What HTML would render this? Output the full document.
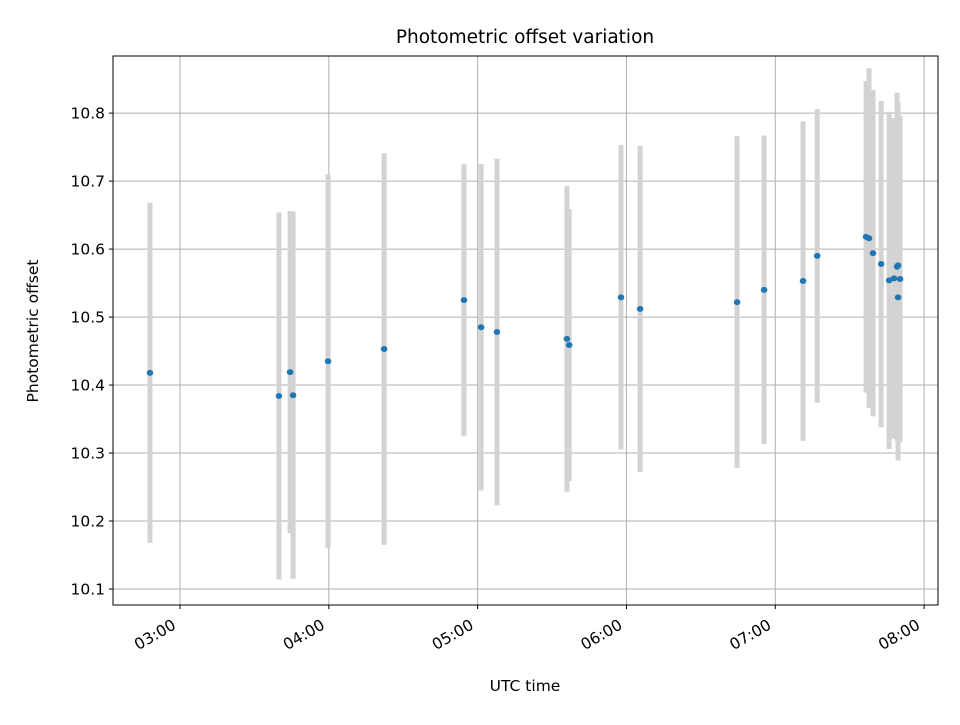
<!DOCTYPE html>
<html><head><meta charset="utf-8"><style>
body{margin:0;background:#fff;font-family:"Liberation Sans","DejaVu Sans",sans-serif}
svg text{font-family:"DejaVu Sans","Liberation Sans",sans-serif;fill:#000}
</style></head><body>
<svg id="chart" width="960" height="720" xmlns="http://www.w3.org/2000/svg">
<rect width="960" height="720" fill="#fff"/>
<g id="grid"></g><g id="bars"></g><g id="pts"></g><g id="axes"></g>
<text x="525" y="43" text-anchor="middle" style="font-size:18.5px">Photometric offset variation</text>
<text x="525" y="691" text-anchor="middle" style="font-size:15.5px">UTC time</text>
<text transform="translate(38,331) rotate(-90)" text-anchor="middle" style="font-size:15.5px">Photometric offset</text>
</svg>
<script>
// minutes since 00:00 UTC
const times=[167.9,219.9,224.4,225.6,239.7,262.3,294.5,301.4,307.8,336.0,336.9,357.8,365.5,404.6,415.5,431.2,436.9,456.6,457.8,459.4,462.7,465.9,467.9,469.1,469.5,470.3,469.5];
const values=[10.418,10.384,10.419,10.385,10.435,10.453,10.525,10.485,10.478,10.468,10.459,10.529,10.512,10.522,10.540,10.553,10.590,10.618,10.616,10.594,10.578,10.554,10.557,10.574,10.576,10.556,10.529];
const errors=[0.25,0.27,0.237,0.27,0.275,0.288,0.2,0.24,0.255,0.225,0.2,0.224,0.24,0.244,0.227,0.235,0.216,0.229,0.25,0.24,0.24,0.248,0.236,0.256,0.24,0.24,0.24];
const yTicks=[10.1,10.2,10.3,10.4,10.5,10.6,10.7,10.8];
const xTicks=[180,240,300,360,420,480];
const xTickLabels=["03:00","04:00","05:00","06:00","07:00","08:00"];
const L=113,R=938,T=56,B=605;
const xMin=153.0,xMax=485.6,yMin=10.0765,yMax=10.884;
const X=m=>L+(m-xMin)/(xMax-xMin)*(R-L);
const Y=v=>B-(v-yMin)/(yMax-yMin)*(B-T);
const NS="http://www.w3.org/2000/svg";
function mk(tag,attrs,parent){const e=document.createElementNS(NS,tag);for(const k in attrs)e.setAttribute(k,attrs[k]);document.getElementById(parent).appendChild(e);return e;}
yTicks.forEach(t=>{
 const g=mk('line',{x1:L,x2:R,y1:Y(t),y2:Y(t),stroke:'#b0b0b0','stroke-width':1},'grid');
 
 
 mk('line',{x1:L-4,x2:L,y1:Y(t),y2:Y(t),stroke:'#000'},'axes');
 const tx=mk('text',{x:L-8,y:Y(t)+5.5,'text-anchor':'end',style:'font-size:15.5px'},'axes');
 tx.textContent=t.toFixed(1);
 
 
});
xTicks.forEach((t,i)=>{
 const g=mk('line',{x1:X(t),x2:X(t),y1:T,y2:B,stroke:'#b0b0b0','stroke-width':1},'grid');
 
 
 mk('line',{x1:X(t),x2:X(t),y1:B,y2:B+4,stroke:'#000'},'axes');
 const tx=mk('text',{transform:`translate(${X(t)-3},${B+23}) rotate(-30)`,'text-anchor':'end',style:'font-size:15.5px'},'axes');
 tx.textContent=xTickLabels[i];
 
 
});
const fr=mk('rect',{x:L,y:T,width:R-L,height:B-T,fill:'none',stroke:'#000','stroke-width':1},'axes');


times.forEach((t,i)=>{
 const b=mk('rect',{x:X(t)-2.5,y:Y(values[i]+errors[i]),width:5,height:Y(values[i]-errors[i])-Y(values[i]+errors[i]),fill:'#d3d3d3'},'bars');
 
 
});
times.forEach((t,i)=>{
 const p=mk('ellipse',{cx:X(t),cy:Y(values[i]),rx:3.3,ry:3,fill:'#1f77b4'},'pts');
 
 
});
</script>
</body></html>
